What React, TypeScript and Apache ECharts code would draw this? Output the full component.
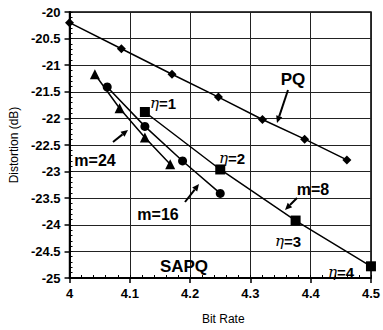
import React, { useEffect, useRef } from "react";
import * as echarts from "echarts";

const xTicks = [4, 4.1, 4.2, 4.3, 4.4, 4.5];
const yTicks = [-25, -24.5, -24, -23.5, -23, -22.5, -22, -21.5, -21, -20.5, -20];

const pqX = [4.0, 4.086, 4.17, 4.247, 4.32, 4.39, 4.46];
const pqY = [-20.2, -20.69, -21.17, -21.6, -22.02, -22.39, -22.78];

const m8X = [4.125, 4.25, 4.375, 4.5];
const m8Y = [-21.88, -22.96, -23.92, -24.78];

const m16X = [4.0625, 4.125, 4.1875, 4.25];
const m16Y = [-21.41, -22.15, -22.8, -23.41];

const m24X = [4.042, 4.083, 4.125, 4.167];
const m24Y = [-21.17, -21.81, -22.36, -22.86];

const FONT = "'Liberation Sans', Arial, sans-serif";

function zip(xs: number[], ys: number[]) {
  return xs.map((x, i) => [x, ys[i]]);
}

function arrow(x1: number, y1: number, x2: number, y2: number) {
  const ang = Math.atan2(y2 - y1, x2 - x1);
  const L = 7, W = 3.2;
  const bx = x2 - L * Math.cos(ang), by = y2 - L * Math.sin(ang);
  const px = -Math.sin(ang) * W, py = Math.cos(ang) * W;
  return [
    { type: "line", shape: { x1, y1, x2: bx, y2: by }, style: { stroke: "#000", lineWidth: 2 }, z: 100 },
    {
      type: "polygon",
      shape: { points: [[x2, y2], [bx + px, by + py], [bx - px, by - py]] },
      style: { fill: "#000" },
      z: 100,
    },
  ];
}

function label(text: string, x: number, y: number, size: number) {
  return {
    type: "text",
    x, y,
    style: { text, font: `bold ${size}px ${FONT}`, fill: "#000", align: "center", verticalAlign: "middle" },
    z: 100,
  };
}

function eta(n: string, x: number, y: number) {
  return {
    type: "text",
    x, y,
    style: {
      text: `{a|η}{b|=${n}}`,
      align: "center",
      verticalAlign: "middle",
      rich: {
        a: { font: `italic 15px 'DejaVu Serif', serif`, fill: "#000" },
        b: { font: `bold 15px ${FONT}`, fill: "#000" },
      },
    },
    z: 100,
  };
}

export default function App() {
  const ref = useRef<HTMLDivElement>(null);
  useEffect(() => {
    if (!ref.current) return;
    const chart = echarts.init(ref.current, null, { renderer: "svg" });
    const lineStyle = { color: "#000", width: 1.5 };
    const itemStyle = { color: "#000" };
    const mk = (name: string, data: number[][], symbol: string, size: number) => ({
      name,
      type: "line",
      data,
      symbol,
      symbolSize: size,
      showAllSymbol: true,
      lineStyle,
      itemStyle,
      z: 10,
    });
    chart.setOption({
      animation: false,
      backgroundColor: "#fff",
      grid: { left: 63, right: 8, top: 12, bottom: 47, show: true, borderColor: "#000", borderWidth: 1.5 },
      xAxis: [
        {
          type: "value",
          min: 4,
          max: 4.5,
          interval: 0.1,
          position: "bottom",
          name: "Bit Rate",
          nameLocation: "middle",
          nameGap: 35,
          nameTextStyle: { fontFamily: FONT, fontSize: 12, color: "#000", padding: [0, 0, 0, 6] },
          axisLine: { lineStyle: { color: "#000", width: 2 } },
          axisTick: { show: true, length: 5, lineStyle: { color: "#000", width: 1.5 } },
          axisLabel: { fontFamily: FONT, fontWeight: "bold", fontSize: 13, color: "#000", margin: 9,
            formatter: (v: number) => String(Math.round(v * 10) / 10) },
          splitLine: { show: true, lineStyle: { color: "#222", width: 1 } },
        },
        {
          type: "value",
          min: 4,
          max: 4.5,
          interval: 0.02,
          position: "bottom",
          axisLine: { show: false },
          axisTick: { show: true, inside: true, length: 3, lineStyle: { color: "#000", width: 1 } },
          axisLabel: { show: false },
          splitLine: { show: false },
        },
      ],
      yAxis: [
        {
          type: "value",
          min: -25,
          max: -20,
          interval: 0.5,
          position: "left",
          name: "Distortion (dB)",
          nameLocation: "middle",
          nameGap: 46,
          nameTextStyle: { fontFamily: FONT, fontSize: 12, color: "#000" },
          axisLine: { lineStyle: { color: "#000", width: 2 } },
          axisTick: { show: true, length: 5, lineStyle: { color: "#000", width: 1.5 } },
          axisLabel: { fontFamily: FONT, fontWeight: "bold", fontSize: 13, color: "#000", margin: 9 },
          splitLine: { show: true, lineStyle: { color: "#222", width: 1 } },
        },
        {
          type: "value",
          min: -25,
          max: -20,
          interval: 0.1,
          position: "left",
          axisLine: { show: false },
          axisTick: { show: true, inside: true, length: 3, lineStyle: { color: "#000", width: 1 } },
          axisLabel: { show: false },
          splitLine: { show: false },
        },
      ],
      series: [
        mk("PQ", zip(pqX, pqY), "diamond", 9),
        mk("m=8", zip(m8X, m8Y), "rect", 10),
        mk("m=16", zip(m16X, m16Y), "circle", 9),
        mk("m=24", zip(m24X, m24Y), "triangle", 10),
      ],
      graphic: [
        label("PQ", 293, 79, 17),
        ...arrow(288, 90, 277, 123),
        eta("1", 163, 103),
        eta("2", 232, 158),
        label("m=8", 313, 189, 16),
        ...arrow(297, 198, 285, 210),
        eta("3", 288, 241),
        eta("4", 341, 272),
        label("m=24", 95, 160, 16),
        ...arrow(113, 142, 128, 130),
        label("m=16", 158, 214, 16),
        ...arrow(185, 202, 199, 184),
        label("SAPQ", 184, 266, 17),
      ],
    });
    return () => chart.dispose();
  }, []);
  return <div ref={ref} style={{ position: "fixed", left: 0, top: 0, width: 383, height: 330 }} />;
}
